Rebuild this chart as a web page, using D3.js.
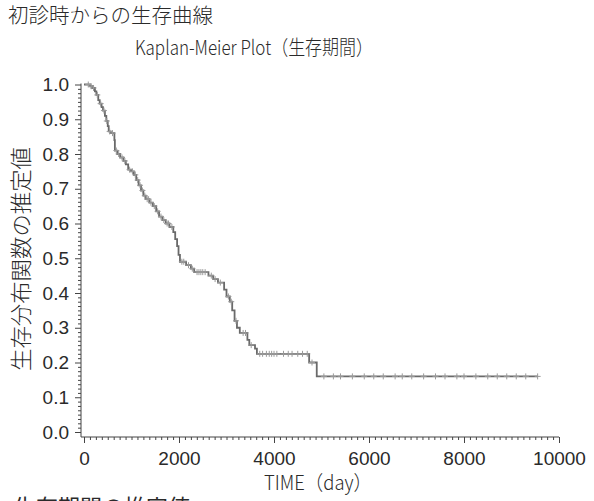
<!DOCTYPE html>
<html><head><meta charset="utf-8">
<script src="https://cdn.jsdelivr.net/npm/d3@7"></script>
<style>body{margin:0;background:#fff}svg{display:block}</style>
</head><body>
<script>
// ---- data ----
const eventTimes = [0,130,170,230,260,300,330,370,400,440,470,500,520,560,640,650,700,760,830,880,930,990,1050,1100,1150,1200,1250,1300,1380,1450,1520,1580,1650,1720,1800,1880,1920,1960,1990,2020,2150,2250,2320,2620,2720,2820,2950,3000,3070,3120,3170,3220,3280,3440,3480,3600,3640,4740,4900];
const survival   = [1.0,0.995,0.99,0.98,0.97,0.955,0.945,0.935,0.925,0.91,0.895,0.88,0.865,0.86,0.84,0.81,0.80,0.79,0.78,0.77,0.755,0.75,0.74,0.725,0.71,0.695,0.68,0.67,0.66,0.65,0.635,0.62,0.61,0.60,0.59,0.575,0.555,0.535,0.51,0.49,0.48,0.47,0.46,0.45,0.44,0.43,0.41,0.39,0.375,0.35,0.32,0.30,0.285,0.265,0.25,0.24,0.225,0.20,0.16];
const lastTime = 9550;
const censorTimes = [90,150,200,280,350,420,480,540,600,680,730,800,860,960,1020,1080,1130,1180,1230,1280,1330,1360,1410,1480,1550,1620,1680,1750,1780,1850,2060,2100,2200,2280,2380,2420,2460,2500,2550,2680,2760,2870,3040,3100,3200,3350,3400,3520,3700,3760,3840,3900,3950,4000,4060,4200,4300,4380,4500,4600,4700,4800,5050,5250,5400,5650,5900,6100,6300,6550,6700,6900,7150,7400,7600,7850,8000,8250,8500,8700,8900,9100,9300,9550];
const yTicks = [0.0,0.1,0.2,0.3,0.4,0.5,0.6,0.7,0.8,0.9,1.0];
const xTicks = [0,2000,4000,6000,8000,10000];
const title1 = "初診時からの生存曲線";
const title2 = "Kaplan-Meier Plot（生存期間）";
const yLabel = "生存分布関数の推定値";
const xLabel = "TIME（day）";
const footText = "生存期間の推定値";

const W = 594, H = 501;
const svg = d3.select("body").append("svg").attr("width", W).attr("height", H);
const x = d3.scaleLinear().domain([0, 10000]).range([84, 559]);
const y = d3.scaleLinear().domain([0, 1]).range([432, 84.5]);
const axX = 81, axY = 437;
const jp = "'Noto Sans CJK JP', sans-serif";
const num = "'Liberation Sans', Arial, sans-serif";
const col = "#2a2a2a";

// titles
svg.append("text").attr("x", 8).attr("y", 23).attr("font-family", jp).attr("font-weight", 300).attr("font-size", 20)
  .attr("fill", col).attr("textLength", 205).attr("lengthAdjust", "spacingAndGlyphs").text(title1);
svg.append("text").attr("x", 135).attr("y", 55).attr("font-family", jp).attr("font-weight", 300).attr("font-size", 20)
  .attr("fill", col).attr("textLength", 238).attr("lengthAdjust", "spacingAndGlyphs").text(title2);

// y axis
const yAxisG = svg.append("g").attr("transform", `translate(${axX},0)`);
yAxisG.call(d3.axisLeft(y).tickValues(d3.range(0, 1.00001, 0.0125)).tickSize(3).tickFormat(""));
yAxisG.call(g => g.selectAll(".tick").filter(d => yTicks.some(t => Math.abs(t - d) < 1e-6)).select("line").attr("x2", -6));
yAxisG.select(".domain").attr("d", `M0,${y(1) - 1}V${axY}`);
const yl = svg.append("g").attr("transform", `translate(${axX},0)`).call(d3.axisLeft(y).tickValues(yTicks).tickSize(0).tickPadding(12).tickFormat(d3.format(".1f")));
yl.select(".domain").remove();
yl.selectAll("text").attr("font-family", num).attr("font-size", 19).attr("fill", col);

// x axis
const xAxisG = svg.append("g").attr("transform", `translate(0,${axY})`);
xAxisG.call(d3.axisBottom(x).tickValues(d3.range(0, 10001, 125)).tickSize(3).tickFormat(""));
xAxisG.call(g => g.selectAll(".tick").filter(d => xTicks.includes(d)).select("line").attr("y2", 6));
xAxisG.select(".domain").attr("d", `M${axX},0H${x(10000)}`);
const xl = svg.append("g").attr("transform", `translate(0,${axY})`).call(d3.axisBottom(x).tickValues(xTicks).tickSize(0).tickPadding(15).tickFormat(d3.format("d")));
xl.select(".domain").remove();
xl.selectAll("text").attr("font-family", num).attr("font-size", 19).attr("fill", col);
svg.selectAll(".tick line").attr("stroke", "#444");
svg.selectAll(".domain").attr("stroke", "#444");

// axis labels
svg.append("text").attr("transform", "translate(29,259) rotate(-90)").attr("text-anchor", "middle")
  .attr("font-family", jp).attr("font-weight", 300).attr("font-size", 22).attr("fill", col)
  .attr("textLength", 224).attr("lengthAdjust", "spacingAndGlyphs").text(yLabel);
svg.append("text").attr("x", 318).attr("y", 490).attr("text-anchor", "middle")
  .attr("font-family", jp).attr("font-weight", 300).attr("font-size", 20).attr("fill", col)
  .attr("textLength", 108).attr("lengthAdjust", "spacingAndGlyphs").text(xLabel);
svg.append("text").attr("x", 14).attr("y", 515).attr("font-family", jp).attr("font-size", 22)
  .attr("fill", col).attr("textLength", 176).attr("lengthAdjust", "spacingAndGlyphs").text(footText);

// step curve
const pts = eventTimes.map((t, i) => [t, survival[i]]);
pts.push([lastTime, survival[survival.length - 1]]);
const line = d3.line().x(d => x(d[0])).y(d => y(d[1])).curve(d3.curveStepAfter);
svg.append("path").datum(pts).attr("d", line).attr("fill", "none").attr("stroke", "#6a6a6a").attr("stroke-width", 1.8);

// censor marks
function survAt(t) {
  let s = 1;
  for (let i = 0; i < eventTimes.length; i++) if (eventTimes[i] <= t) s = survival[i];
  return s;
}
const cg = svg.append("g").attr("stroke", "#9a9a9a").attr("stroke-width", 1);
censorTimes.forEach(t => {
  const cx = x(t), cy = y(survAt(t));
  cg.append("path").attr("d", `M${cx - 3},${cy}H${cx + 3}M${cx},${cy - 3}V${cy + 3}`);
});
</script>
</body></html>
